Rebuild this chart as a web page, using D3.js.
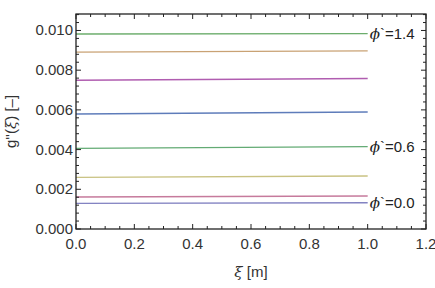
<!DOCTYPE html>
<html>
<head>
<meta charset="utf-8">
<script src="https://cdn.jsdelivr.net/npm/d3@7"></script>
<style>
  body { margin: 0; background: #fff; }
  text { font-family: "Liberation Sans", Arial, sans-serif; }
</style>
</head>
<body>
<div id="chart"></div>
<script>
const phiValues = [0.0, 0.2, 0.4, 0.6, 0.8, 1.0, 1.2, 1.4];
const xiValues = [0, 1.0];
// g'' at xi = 0 and xi = 1 for each phi
const gStart = [0.00129, 0.00161, 0.00260, 0.00406, 0.00579, 0.00749, 0.00891, 0.00982];
const gEnd = [0.00132, 0.00166, 0.00267, 0.00415, 0.00589, 0.00758, 0.00897, 0.00984];
const lineColors = ["#8383c2", "#c67a9c", "#c9c282", "#63ab74", "#5e7cba", "#b05db0", "#c9a274", "#6cad6c"];
const labelledPhi = [1.4, 0.6, 0.0];
const xTicks = [0.0, 0.2, 0.4, 0.6, 0.8, 1.0, 1.2];
const yTicks = [0.000, 0.002, 0.004, 0.006, 0.008, 0.010];

const width = 435;
const height = 288;
const margin = { top: 14, right: 9, bottom: 59, left: 76 };

const svg = d3
  .select("#chart")
  .append("svg")
  .attr("width", width)
  .attr("height", height);

const x = d3.scaleLinear().domain([0, 1.2]).range([margin.left, width - margin.right]);
const y = d3.scaleLinear().domain([0, 0.01083]).range([height - margin.bottom, margin.top]);

const series = phiValues.map((phi, i) => ({
  phi: phi,
  color: lineColors[i],
  points: xiValues.map((xi, j) => ({ xi: xi, g: j === 0 ? gStart[i] : gEnd[i] }))
}));

const line = d3.line().x((d) => x(d.xi)).y((d) => y(d.g));

svg
  .selectAll(".series")
  .data(series)
  .enter()
  .append("path")
  .attr("class", "series")
  .attr("d", (d) => line(d.points))
  .attr("fill", "none")
  .attr("stroke", (d) => d.color)
  .attr("stroke-width", 1.4);

// labels at line ends
svg
  .selectAll(".lab")
  .data(series.filter((d) => labelledPhi.includes(d.phi)))
  .enter()
  .append("text")
  .attr("class", "lab")
  .attr("x", (d) => x(1.0) + 2)
  .attr("y", (d) => y(d.points[1].g) + 5)
  .style("font-size", "15px")
  .attr("fill", "#222")
  .html((d) => `<tspan font-style="italic" font-family="DejaVu Serif">ϕ</tspan>\`=${d.phi.toFixed(1)}`);

// frame with ticks on all sides (inward)
const x0 = margin.left, x1 = width - margin.right;
const y0 = height - margin.bottom, y1 = margin.top;
const frame = svg.append("g").attr("stroke", "#222").attr("stroke-width", 1);

frame.append("rect")
  .attr("x", x0).attr("y", y1)
  .attr("width", x1 - x0).attr("height", y0 - y1)
  .attr("fill", "none")
  .attr("stroke-width", 1.3);

const xMinor = d3.range(0, 1.2001, 0.05);
const yMinor = d3.range(0, 0.01083, 0.0004);

xMinor.forEach((v) => {
  const major = xTicks.some((t) => Math.abs(t - v) < 1e-6);
  const len = major ? 5 : 3;
  frame.append("line").attr("x1", x(v)).attr("x2", x(v)).attr("y1", y0).attr("y2", y0 - len);
  frame.append("line").attr("x1", x(v)).attr("x2", x(v)).attr("y1", y1).attr("y2", y1 + len);
});
yMinor.forEach((v) => {
  const major = yTicks.some((t) => Math.abs(t - v) < 1e-7);
  const len = major ? 5 : 3;
  frame.append("line").attr("y1", y(v)).attr("y2", y(v)).attr("x1", x0).attr("x2", x0 + len);
  frame.append("line").attr("y1", y(v)).attr("y2", y(v)).attr("x1", x1).attr("x2", x1 - len);
});

// tick labels
svg
  .selectAll(".xt")
  .data(xTicks)
  .enter()
  .append("text")
  .attr("x", (d) => x(d))
  .attr("y", y0 + 20)
  .attr("text-anchor", "middle")
  .style("font-size", "15px")
  .attr("fill", "#333")
  .text((d) => d.toFixed(1));

svg
  .selectAll(".yt")
  .data(yTicks)
  .enter()
  .append("text")
  .attr("x", x0 - 3)
  .attr("y", (d) => y(d) + 5)
  .attr("text-anchor", "end")
  .style("font-size", "15px")
  .attr("fill", "#333")
  .text((d) => d.toFixed(3));

// axis titles
svg
  .append("text")
  .attr("x", (x0 + x1) / 2)
  .attr("y", 277)
  .attr("text-anchor", "middle")
  .style("font-size", "15px")
  .attr("fill", "#333")
  .html(`<tspan font-style="italic" font-family="DejaVu Serif">ξ</tspan> [m]`);

svg
  .append("text")
  .attr("transform", `translate(16, ${(y0 + y1) / 2}) rotate(-90)`)
  .attr("text-anchor", "middle")
  .style("font-size", "15px")
  .attr("fill", "#333")
  .html(`g''(<tspan font-style="italic" font-family="DejaVu Serif">ξ</tspan>) [–]`);
</script>
</body>
</html>
